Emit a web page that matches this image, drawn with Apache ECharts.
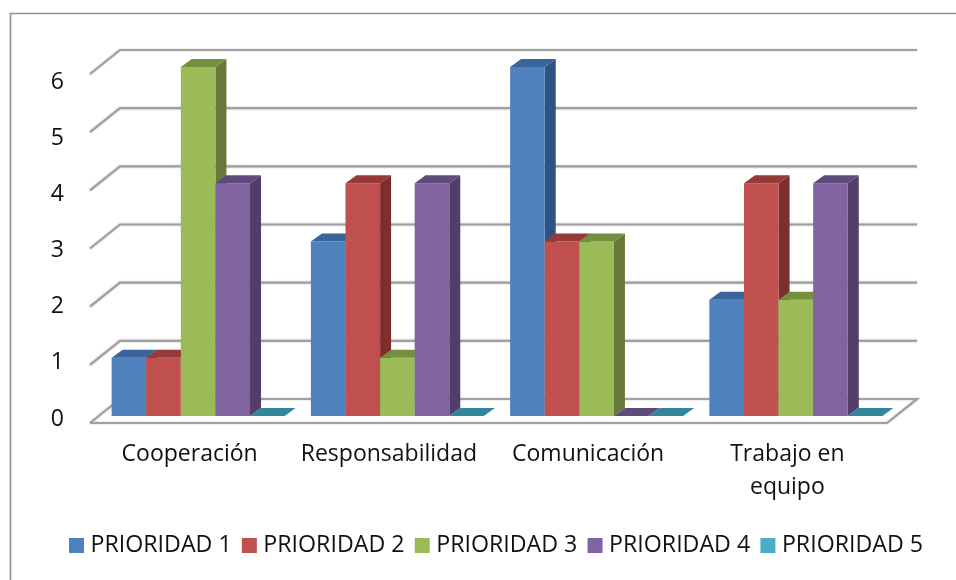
<!DOCTYPE html>
<html><head><meta charset="utf-8">
<style>html,body{margin:0;padding:0;background:#fff}#c{width:956px;height:580px}</style>
<script src="https://cdn.jsdelivr.net/npm/echarts@6/dist/echarts.min.js"></script>
</head><body><div id="c"></div>
<script>
const categories = ['Cooperación','Responsabilidad','Comunicación','Trabajo en\nequipo'];
const seriesNames = ['PRIORIDAD 1','PRIORIDAD 2','PRIORIDAD 3','PRIORIDAD 4','PRIORIDAD 5'];
const prioridad1 = [1,3,6,2];
const prioridad2 = [1,4,3,4];
const prioridad3 = [6,1,3,2];
const prioridad4 = [4,4,0,4];
const prioridad5 = [0,0,0,0];
const yTicks = [0,1,2,3,4,5,6];
const frontColors = ['#4F81BD','#C0504D','#9BBB59','#8064A2','#4BACC6'];
const sideColors  = ['#2F5380','#7E2E2C','#66793A','#513E69','#2F7F95'];
const topColors   = ['#39659B','#953A38','#74903F','#5F4A7C','#31859C'];
const allValues = [prioridad1,prioridad2,prioridad3,prioridad4,prioridad5];

const FONT = '"Open Sans"';
const TEXT = '#111';
const BAR_W = 34.6, DX = 11, DY = 8;
const BACK_DX = 30, BACK_UP = 17, FRONT_DOWN = 7;

function wallItem(params, api){
  const v = api.value(1);
  const y = api.coord([0, v])[1];
  const cs = params.coordSys;
  const L = cs.x, R = cs.x + cs.width;
  const style = {stroke:'#a0a0a0', lineWidth:2.2, fill:null, shadowBlur:2, shadowColor:'rgba(0,0,0,0.25)'};
  const back = [[L, y+FRONT_DOWN],[L+BACK_DX, y-BACK_UP],[R+BACK_DX, y-BACK_UP]];
  if (v === 0) back.push([R, y+FRONT_DOWN],[L, y+FRONT_DOWN]);
  return {type:'polyline', shape:{points:back}, style, silent:true};
}
function barItem(idx){
  return function(params, api){
    const c = api.value(0), v = api.value(1);
    const base = api.coord([c, 0]), top = api.coord([c, v]);
    const x0 = base[0] - 78 + BAR_W*idx, x1 = x0 + BAR_W;
    const y0 = base[1], y1 = top[1];
    const children = [];
    if (v > 0) {
      children.push({type:'polygon', shape:{points:[[x1,y0],[x1+DX,y0-DY],[x1+DX,y1-DY],[x1,y1]]}, style:{fill:sideColors[idx]}});
      children.push({type:'rect', shape:{x:x0,y:y1,width:BAR_W,height:y0-y1}, style:{fill:frontColors[idx]}});
    }
    children.push({type:'polygon', shape:{points:[[x0,y1],[x0+DX,y1-DY],[x1+DX,y1-DY],[x1,y1]]}, style:{fill:topColors[idx]}});
    return {type:'group', children};
  };
}

const series = [{
  type:'custom', xAxisIndex:0, yAxisIndex:0, silent:true, z:1,
  data: yTicks.map(v=>[0,v]), encode:{x:0,y:1}, renderItem:wallItem
}];
seriesNames.forEach((name,i)=>{
  series.push({
    name, type:'custom', xAxisIndex:0, yAxisIndex:0, z:2+i,
    itemStyle:{color:frontColors[i]},
    data: allValues[i].map((v,c)=>[c,v]), encode:{x:0,y:1}, renderItem:barItem(i)
  });
});

const chart = echarts.init(document.getElementById('c'),null,{renderer:'canvas'});
chart.setOption({
  animation:false, backgroundColor:'#fff',
  graphic:[{type:'rect', silent:true, z:0, shape:{x:10.5,y:13.5,width:1000,height:620},
    style:{fill:null, stroke:'#8f8f8f', lineWidth:1.6}}],
  grid:[
    {left:90, right:69, top:67, bottom:164},
    {left:66, width:10, top:82, bottom:161}
  ],
  xAxis:[
    {type:'category', gridIndex:0, data:categories, boundaryGap:true,
     axisLine:{show:false}, axisTick:{show:false}, splitLine:{show:false},
     axisLabel:{fontFamily:FONT, fontSize:23, color:TEXT, margin:22, lineHeight:33, interval:0}},
    {type:'value', gridIndex:1, show:false, min:0, max:1}
  ],
  yAxis:[
    {type:'value', gridIndex:0, min:0, max:6, interval:1,
     axisLine:{show:false}, axisTick:{show:false}, splitLine:{show:false}, axisLabel:{show:false}},
    {type:'value', gridIndex:1, min:0, max:6, interval:1,
     axisLine:{show:false}, axisTick:{show:false}, splitLine:{show:false},
     axisLabel:{fontFamily:FONT, fontSize:23, color:TEXT, margin:2}}
  ],
  legend:{
    data:seriesNames, left:64, top:529, icon:'rect', itemWidth:15, itemHeight:15, itemGap:10.2,
    selectedMode:false, itemStyle:{borderWidth:0},
    textStyle:{fontFamily:FONT, fontSize:23.2, color:TEXT, padding:[0,0,16,1.5]}
  },
  series
});
</script></body></html>
